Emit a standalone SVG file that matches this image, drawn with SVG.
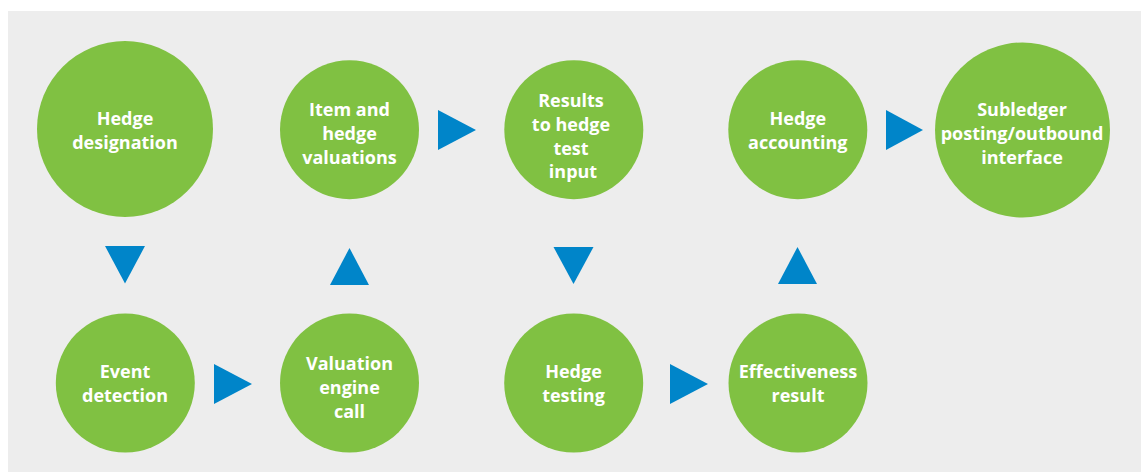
<svg xmlns="http://www.w3.org/2000/svg" width="1141" height="472" viewBox="0 0 1141 472">
<style>
.n{fill:#80c142}
.t{fill:#ffffff;font-family:"Open Sans","Liberation Sans",sans-serif;font-weight:700;font-size:18px;text-anchor:middle}
.a{fill:#0085c9}
</style>
<rect x="0" y="0" width="1141" height="472" fill="#ffffff"/>
<rect x="8" y="11" width="1133" height="461" fill="#ededed"/>
<g id="connectors">
<polygon class="a" points="105,246 145,246 125,283.5"/>
<polygon class="a" points="330,285 369,285 349.5,248"/>
<polygon class="a" points="553.5,247 593.5,247 573.5,284"/>
<polygon class="a" points="778,284 817,284 797.5,247"/>
<polygon class="a" points="214,364 252,384 214,404"/>
<polygon class="a" points="438,110 476,130 438,150"/>
<polygon class="a" points="670,364 708,384 670,404"/>
<polygon class="a" points="886,110 923,130 886,150"/>
</g>
<g id="hedge-designation">
<circle class="n" cx="125" cy="129" r="88"/>
<text class="t" x="125" y="125">Hedge</text>
<text class="t" x="125" y="148.5">designation</text>
</g>
<g id="item-hedge-valuations">
<circle class="n" cx="349.5" cy="129.7" r="69.5"/>
<text class="t" x="349.5" y="115.7">Item and</text>
<text class="t" x="349.5" y="140">hedge</text>
<text class="t" x="349.5" y="163.5">valuations</text>
</g>
<g id="results-hedge-test-input">
<circle class="n" cx="573.8" cy="129.7" r="69.5"/>
<text class="t" x="571" y="106.7">Results</text>
<text class="t" x="571" y="131">to hedge</text>
<text class="t" x="571" y="154.5">test</text>
<text class="t" x="573" y="178.3">input</text>
</g>
<g id="hedge-accounting">
<circle class="n" cx="797.8" cy="129.7" r="69.5"/>
<text class="t" x="797.8" y="125">Hedge</text>
<text class="t" x="797.8" y="149">accounting</text>
</g>
<g id="subledger-posting">
<circle class="n" cx="1022.5" cy="130" r="87.5"/>
<text class="t" x="1022" y="116">Subledger</text>
<text class="t" x="1022" y="140">posting/outbound</text>
<text class="t" x="1022" y="163.5">interface</text>
</g>
<g id="event-detection">
<circle class="n" cx="125.3" cy="383" r="69.5"/>
<text class="t" x="125" y="377.7">Event</text>
<text class="t" x="125" y="401.7">detection</text>
</g>
<g id="valuation-engine-call">
<circle class="n" cx="349.5" cy="383" r="69.5"/>
<text class="t" x="349.5" y="370">Valuation</text>
<text class="t" x="349.5" y="394">engine</text>
<text class="t" x="349.5" y="417.7">call</text>
</g>
<g id="hedge-testing">
<circle class="n" cx="573.7" cy="383" r="69.5"/>
<text class="t" x="573.5" y="377.7">Hedge</text>
<text class="t" x="573.5" y="401.7">testing</text>
</g>
<g id="effectiveness-result">
<circle class="n" cx="798" cy="383" r="69.5"/>
<text class="t" x="798" y="377.7">Effectiveness</text>
<text class="t" x="798" y="401.7">result</text>
</g>
</svg>
